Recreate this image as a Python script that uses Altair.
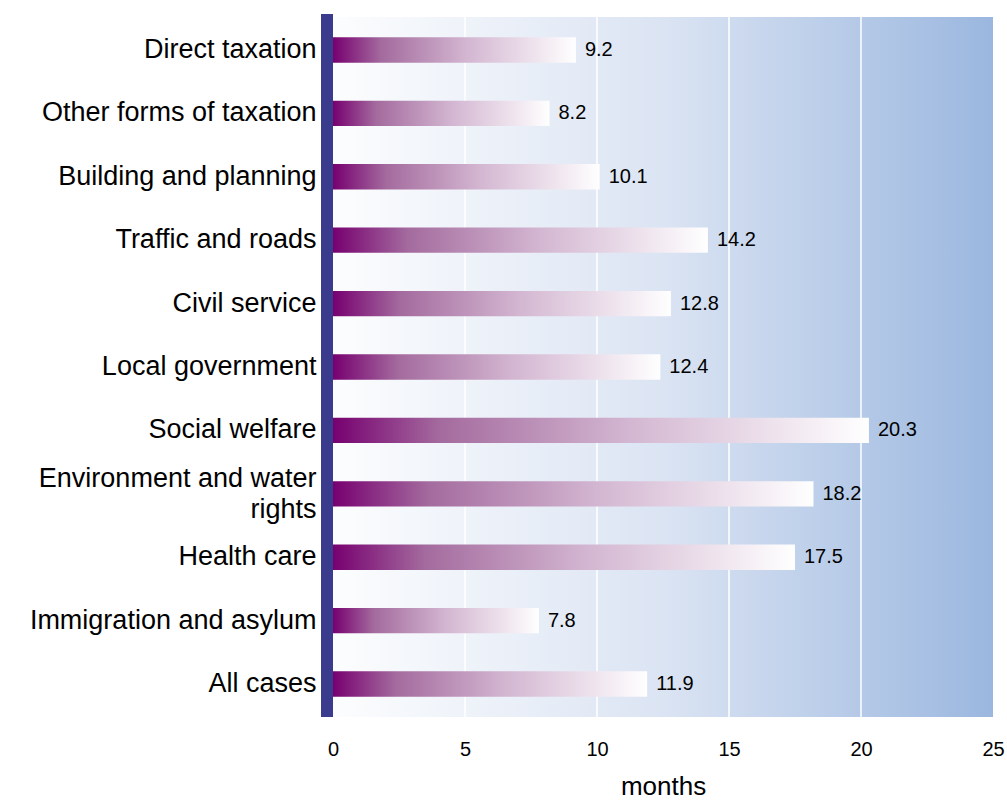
import altair as alt
import pandas as pd

categories = ["Direct taxation", "Other forms of taxation", "Building and planning",
              "Traffic and roads", "Civil service", "Local government", "Social welfare",
              "Environment and water rights", "Health care", "Immigration and asylum",
              "All cases"]
values = [9.2, 8.2, 10.1, 14.2, 12.8, 12.4, 20.3, 18.2, 17.5, 7.8, 11.9]
grid_values = [5, 10, 15, 20]
x_ticks = [0, 5, 10, 15, 20, 25]

W, H = 660, 700
FONT = "Liberation Sans"

df = pd.DataFrame({"cat": categories, "val": values})
gdf = pd.DataFrame({"g": grid_values})

x_scale = alt.Scale(domain=[0, 25], nice=False, zero=True)
y_scale = alt.Scale(domain=categories, paddingInner=0.6, paddingOuter=0.32)

x_axis = alt.Axis(values=x_ticks, title="months", grid=False, domain=False,
                  ticks=False, labelFont=FONT, labelFontSize=20, labelFlush=False,
                  labelColor="black", labelPadding=22, titleFont=FONT,
                  titleFontSize=26, titleFontWeight="normal",
                  titleColor="black", titlePadding=14)

bg = alt.Chart(pd.DataFrame({"a": [0]})).mark_rect(
    color=alt.LinearGradient(
        gradient="linear", x1=0, x2=1, y1=0, y2=0,
        stops=[alt.GradientStop(offset=0, color="#fcfdfe"),
               alt.GradientStop(offset=0.5, color="#dbe4f3"),
               alt.GradientStop(offset=1, color="#9bb7df")])
).encode(x=alt.value(0), x2=alt.value(W), y=alt.value(0), y2=alt.value(H))

grid = alt.Chart(gdf).mark_rule(color="white", strokeWidth=1.5).encode(
    x=alt.X("g:Q", scale=x_scale, axis=x_axis),
    y=alt.value(0), y2=alt.value(H)
)

bars = alt.Chart(df).mark_bar(
    color=alt.LinearGradient(
        gradient="linear", x1=0, x2=1, y1=0, y2=0,
        stops=[alt.GradientStop(offset=0, color="#770070"),
               alt.GradientStop(offset=0.2, color="#a46b9e"),
               alt.GradientStop(offset=0.55, color="#d3b6d1"),
               alt.GradientStop(offset=1, color="#ffffff")])
).encode(
    x=alt.X("val:Q", scale=x_scale, axis=x_axis),
    y=alt.Y("cat:N", scale=y_scale, sort=categories,
            axis=alt.Axis(title=None, domain=False, ticks=False, labelFont=FONT,
                          labelFontSize=27, labelColor="black", labelPadding=17,
                          labelLimit=400, labelLineHeight=31,
                          labelOffset={"condition": {"test": "datum.value == 'Environment and water rights'", "value": -15}, "value": 0},
                          labelExpr="datum.value == 'Environment and water rights' ? ['Environment and water', 'rights'] : datum.label"))
)

labels = alt.Chart(df).mark_text(align="left", baseline="middle", dx=9,
                                 font=FONT, fontSize=20, color="black").encode(
    x=alt.X("val:Q", scale=x_scale, axis=x_axis),
    y=alt.Y("cat:N", scale=y_scale, sort=categories),
    text=alt.Text("val:Q", format=".1f")
)

leftbar = alt.Chart(pd.DataFrame({"a": [0]})).mark_rect(color="#3b3b8e").encode(
    x=alt.value(-12), x2=alt.value(0), y=alt.value(-3), y2=alt.value(H)
)

chart = alt.layer(bg, grid, bars, labels, leftbar).properties(
    width=W, height=H,
    autosize=alt.AutoSizeParams(type="none"),
    padding={"left": 333, "top": 17, "right": 14, "bottom": 84},
    background="white"
).configure_view(stroke=None)

chart.save("out.html", embed_options={"renderer": "svg", "actions": False})
